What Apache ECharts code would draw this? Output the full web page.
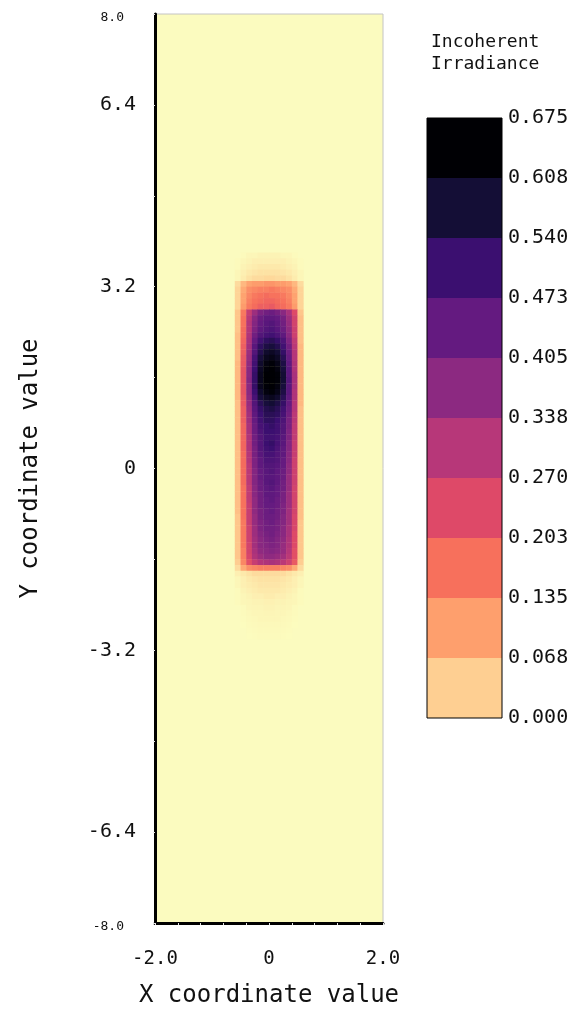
<!DOCTYPE html>
<html><head><meta charset="utf-8">
<script src="https://cdn.jsdelivr.net/npm/echarts@6/dist/echarts.min.js"></script>
<style>html,body{margin:0;padding:0;background:#fff}#c{width:577px;height:1011px}</style>
</head><body><div id="c"></div><script>
// ---- data ----
const xCenters = [-0.55,-0.45,-0.35,-0.25,-0.15,-0.05,0.05,0.15,0.25,0.35,0.45,0.55];
const yFirstCenter = 3.75;   // centre of first row below
const CELL = 0.1;            // cell size (data units)

const haloTop = [
 [0,0.005,0.01,0.01,0.015,0.015,0.015,0.015,0.01,0.01,0.005,0],
 [0.005,0.01,0.015,0.02,0.02,0.02,0.02,0.02,0.02,0.015,0.01,0.005],
 [0.005,0.015,0.02,0.025,0.03,0.03,0.03,0.03,0.025,0.02,0.015,0.005],
 [0.01,0.02,0.03,0.035,0.04,0.04,0.04,0.04,0.035,0.03,0.02,0.01],
 [0.01,0.025,0.04,0.05,0.05,0.055,0.055,0.05,0.05,0.04,0.025,0.01]
];
const bandTop = [
 [0.05,0.1,0.13,0.14,0.14,0.15,0.15,0.14,0.14,0.13,0.1,0.05],
 [0.06,0.12,0.16,0.17,0.18,0.18,0.19,0.18,0.17,0.16,0.12,0.06],
 [0.06,0.13,0.17,0.19,0.2,0.21,0.2,0.2,0.19,0.17,0.13,0.06],
 [0.06,0.13,0.18,0.2,0.21,0.22,0.22,0.21,0.2,0.18,0.13,0.06],
 [0.06,0.14,0.19,0.21,0.23,0.23,0.24,0.22,0.21,0.19,0.14,0.06]
];
const bodyUpper = [
 [0.08,0.19,0.31,0.38,0.43,0.45,0.46,0.44,0.41,0.36,0.27,0.08],
 [0.08,0.2,0.33,0.41,0.46,0.48,0.48,0.47,0.44,0.38,0.29,0.09],
 [0.08,0.2,0.34,0.42,0.47,0.49,0.5,0.48,0.45,0.39,0.29,0.09],
 [0.08,0.21,0.34,0.43,0.48,0.5,0.51,0.49,0.46,0.4,0.3,0.09],
 [0.09,0.21,0.35,0.45,0.5,0.52,0.53,0.51,0.48,0.41,0.3,0.09],
 [0.09,0.22,0.36,0.47,0.53,0.56,0.57,0.55,0.51,0.43,0.32,0.09],
 [0.09,0.23,0.37,0.49,0.56,0.59,0.6,0.58,0.53,0.45,0.33,0.1],
 [0.09,0.23,0.38,0.5,0.58,0.62,0.63,0.61,0.55,0.46,0.34,0.1]
];
const core = [
 [0.09,0.24,0.39,0.52,0.6,0.64,0.65,0.63,0.57,0.47,0.34,0.1],
 [0.1,0.24,0.4,0.53,0.62,0.66,0.67,0.65,0.59,0.48,0.35,0.1],
 [0.1,0.25,0.41,0.54,0.63,0.67,0.675,0.66,0.6,0.49,0.35,0.1],
 [0.1,0.25,0.41,0.55,0.64,0.675,0.675,0.67,0.61,0.49,0.36,0.1],
 [0.1,0.25,0.42,0.55,0.64,0.675,0.675,0.67,0.61,0.5,0.36,0.1],
 [0.1,0.25,0.41,0.55,0.64,0.67,0.675,0.66,0.6,0.49,0.36,0.1],
 [0.1,0.25,0.41,0.54,0.62,0.66,0.67,0.65,0.59,0.49,0.35,0.1],
 [0.1,0.24,0.4,0.52,0.6,0.63,0.64,0.62,0.57,0.48,0.35,0.1],
 [0.09,0.24,0.39,0.5,0.57,0.6,0.61,0.59,0.55,0.47,0.34,0.1],
 [0.09,0.23,0.38,0.49,0.55,0.58,0.59,0.57,0.53,0.46,0.34,0.09]
];
const bodyLower = [
 [0.09,0.23,0.37,0.48,0.54,0.57,0.57,0.56,0.52,0.45,0.33,0.09],
 [0.09,0.23,0.37,0.47,0.53,0.56,0.56,0.54,0.51,0.44,0.33,0.09],
 [0.09,0.22,0.36,0.46,0.52,0.54,0.55,0.53,0.5,0.44,0.32,0.09],
 [0.09,0.22,0.36,0.46,0.51,0.54,0.54,0.53,0.5,0.43,0.32,0.09],
 [0.09,0.22,0.35,0.45,0.5,0.53,0.53,0.52,0.49,0.43,0.32,0.09],
 [0.09,0.22,0.35,0.45,0.5,0.54,0.55,0.52,0.49,0.42,0.31,0.09],
 [0.09,0.22,0.35,0.44,0.5,0.53,0.54,0.51,0.48,0.42,0.31,0.09],
 [0.09,0.21,0.34,0.44,0.49,0.52,0.52,0.5,0.48,0.41,0.31,0.09],
 [0.09,0.21,0.34,0.43,0.48,0.51,0.51,0.5,0.47,0.41,0.3,0.09],
 [0.09,0.21,0.33,0.43,0.48,0.5,0.5,0.49,0.47,0.4,0.3,0.09],
 [0.09,0.21,0.33,0.42,0.47,0.49,0.5,0.48,0.46,0.4,0.3,0.09],
 [0.09,0.21,0.33,0.42,0.47,0.49,0.49,0.48,0.46,0.39,0.3,0.09],
 [0.09,0.21,0.33,0.42,0.46,0.49,0.5,0.48,0.45,0.39,0.3,0.09],
 [0.09,0.2,0.32,0.41,0.46,0.48,0.49,0.47,0.45,0.39,0.29,0.09],
 [0.09,0.2,0.32,0.41,0.45,0.48,0.48,0.47,0.44,0.38,0.29,0.09],
 [0.09,0.2,0.32,0.4,0.45,0.47,0.48,0.46,0.44,0.38,0.29,0.09],
 [0.09,0.2,0.31,0.4,0.45,0.47,0.47,0.46,0.43,0.38,0.29,0.09],
 [0.09,0.2,0.31,0.4,0.44,0.46,0.47,0.45,0.43,0.37,0.29,0.09],
 [0.08,0.2,0.31,0.39,0.44,0.46,0.46,0.45,0.42,0.37,0.28,0.09],
 [0.08,0.19,0.31,0.39,0.43,0.45,0.46,0.44,0.42,0.37,0.28,0.08],
 [0.08,0.19,0.3,0.38,0.43,0.45,0.45,0.44,0.41,0.36,0.28,0.08],
 [0.08,0.19,0.3,0.38,0.42,0.44,0.45,0.43,0.41,0.36,0.27,0.08],
 [0.08,0.19,0.3,0.37,0.41,0.43,0.44,0.42,0.4,0.35,0.27,0.08],
 [0.08,0.19,0.29,0.37,0.41,0.42,0.43,0.42,0.39,0.35,0.27,0.08],
 [0.08,0.18,0.29,0.36,0.4,0.41,0.42,0.41,0.39,0.34,0.26,0.08],
 [0.08,0.18,0.28,0.35,0.38,0.4,0.4,0.39,0.37,0.33,0.26,0.08],
 [0.07,0.17,0.26,0.31,0.34,0.35,0.36,0.35,0.33,0.3,0.24,0.07]
];
const bandBottom = [
 [0.05,0.12,0.16,0.17,0.18,0.18,0.18,0.18,0.17,0.16,0.12,0.05]
];
const haloBottom = [
 [0.02,0.03,0.04,0.05,0.05,0.05,0.05,0.05,0.05,0.04,0.03,0.02],
 [0.01,0.02,0.03,0.035,0.04,0.04,0.04,0.04,0.035,0.03,0.02,0.01],
 [0.01,0.02,0.025,0.03,0.035,0.035,0.035,0.035,0.03,0.025,0.02,0.01],
 [0.005,0.015,0.02,0.025,0.03,0.03,0.03,0.03,0.025,0.02,0.015,0.005],
 [0.005,0.01,0.015,0.02,0.02,0.025,0.025,0.02,0.02,0.015,0.01,0.005],
 [0.005,0.01,0.012,0.015,0.015,0.018,0.018,0.015,0.015,0.012,0.01,0.005],
 [0,0.005,0.01,0.012,0.012,0.015,0.015,0.012,0.012,0.01,0.005,0],
 [0,0.005,0.008,0.01,0.01,0.012,0.012,0.01,0.01,0.008,0.005,0],
 [0,0.003,0.006,0.008,0.01,0.01,0.01,0.01,0.008,0.006,0.003,0],
 [0,0.002,0.005,0.006,0.008,0.008,0.008,0.008,0.006,0.005,0.002,0],
 [0,0,0.003,0.005,0.006,0.006,0.006,0.006,0.005,0.003,0,0],
 [0,0,0.002,0.003,0.004,0.004,0.004,0.004,0.003,0.002,0,0]
];

const cbEdges = [0,0.0675,0.135,0.2025,0.27,0.3375,0.405,0.4725,0.54,0.6075,0.675];
const cbLabels = ['0.000','0.068','0.135','0.203','0.270','0.338','0.405','0.473','0.540','0.608','0.675'];
const cbColors = ['#fecf92','#fe9f6d','#f7705c','#de4968','#b73779','#8c2981','#641a80','#3b0f70','#140e36','#000004'];
const magmaR = ['#fcfdbf','#fecf92','#fe9f6d','#f7705c','#de4968','#b73779','#8c2981','#641a80','#3b0f70','#140e36','#000004'];

// ---- build ----
const rows = [].concat(haloTop, bandTop, bodyUpper, core, bodyLower, bandBottom, haloBottom);
const cells = [];
rows.forEach((r, i) => {
  const y = +(yFirstCenter - CELL * i).toFixed(3);
  r.forEach((v, j) => { if (v > 0) cells.push([xCenters[j], y, v]); });
});

const FONT = 'DejaVu Sans Mono';
const chart = echarts.init(document.getElementById('c'), null, {renderer: 'canvas'});

const barSeries = cbColors.map((col, i) => ({
  type: 'bar', xAxisIndex: 1, yAxisIndex: 1, stack: 'cb', barWidth: '100%',
  silent: true, data: [+(cbEdges[i + 1] - cbEdges[i]).toFixed(4)],
  itemStyle: {color: col}
}));

function yLab(v) {
  const r = Math.round(v * 10) / 10;
  if (r === 8 || r === -8) return '{s|' + r.toFixed(1) + '}';
  if (r === 0) return '0';
  if (Math.abs(r) === 6.4 || Math.abs(r) === 3.2) return r.toFixed(1);
  return '';
}
function xLab(v) {
  const r = Math.round(v * 10) / 10;
  if (r === 0) return '0';
  if (Math.abs(r) === 2) return r.toFixed(1);
  return '';
}

chart.setOption({
  animation: false,
  backgroundColor: '#ffffff',
  textStyle: {fontFamily: FONT, color: '#111'},
  title: {
    text: 'Incoherent\nIrradiance', left: 426, top: 26,
    textStyle: {fontFamily: FONT, fontSize: 18, fontWeight: 'normal', color: '#111', lineHeight: 22}
  },
  grid: [
    {left: 155, top: 14, width: 228, height: 909, show: true, backgroundColor: '#fbfbbf', borderColor: '#c4c4c4', borderWidth: 1,
     outerBoundsMode: 'none', containLabel: false},
    {left: 427, top: 118, width: 75, height: 600, show: true, backgroundColor: 'transparent', borderColor: '#000', borderWidth: 1, z: 5,
     outerBoundsMode: 'none', containLabel: false}
  ],
  xAxis: [
    {type: 'value', gridIndex: 0, min: -2, max: 2, interval: 0.4,
     axisLine: {show: true, onZero: false, lineStyle: {color: '#000', width: 3}},
     axisTick: {show: true, length: 2, lineStyle: {color: '#e6e6e6', width: 1}},
     axisLabel: {formatter: xLab, fontSize: 19, margin: 27, color: '#111', fontFamily: FONT, showMinLabel: true, showMaxLabel: true},
     splitLine: {show: false},
     name: 'X coordinate value', nameLocation: 'middle', nameGap: 61,
     nameTextStyle: {fontSize: 24, fontFamily: FONT, color: '#111'}},
    {type: 'category', gridIndex: 1, data: [''], show: false}
  ],
  yAxis: [
    {type: 'value', gridIndex: 0, min: -8, max: 8, interval: 1.6,
     axisLine: {show: true, onZero: false, lineStyle: {color: '#000', width: 3}},
     axisTick: {show: true, length: 2, lineStyle: {color: '#e6e6e6', width: 1}},
     axisLabel: {formatter: yLab, fontSize: 20, margin: 19, color: '#111', fontFamily: FONT, showMinLabel: true, showMaxLabel: true,
       rich: {s: {fontSize: 13, fontFamily: FONT, color: '#111', padding: [7, 12, 0, 0]}}},
     splitLine: {show: false},
     name: 'Y coordinate value', nameLocation: 'middle', nameGap: 112,
     nameTextStyle: {fontSize: 24, fontFamily: FONT, color: '#111'}},
    {type: 'value', gridIndex: 1, min: 0, max: 0.675, interval: 0.0675, position: 'right',
     axisLine: {show: false}, axisTick: {show: false}, splitLine: {show: false},
     axisLabel: {formatter: v => cbLabels[Math.round(v / 0.0675)], fontSize: 20, margin: 6, color: '#111', fontFamily: FONT,
       showMinLabel: true, showMaxLabel: true}}
  ],
  visualMap: {
    type: 'continuous', show: false, seriesIndex: 0, dimension: 2, min: 0, max: 0.675,
    inRange: {color: magmaR}
  },
  series: [
    {type: 'custom', xAxisIndex: 0, yAxisIndex: 0, clip: true,
     dimensions: ['x', 'y', 'v'], encode: {x: 0, y: 1},
     data: cells,
     renderItem: function (params, api) {
       const x = api.value(0), y = api.value(1);
       const p0 = api.coord([x - CELL / 2, y + CELL / 2]);
       const p1 = api.coord([x + CELL / 2, y - CELL / 2]);
       return {type: 'rect',
         shape: {x: p0[0], y: p0[1], width: p1[0] - p0[0] + 0.4, height: p1[1] - p0[1] + 0.4},
         style: {fill: api.visual('color')}};
     }}
  ].concat(barSeries)
});
</script></body></html>
